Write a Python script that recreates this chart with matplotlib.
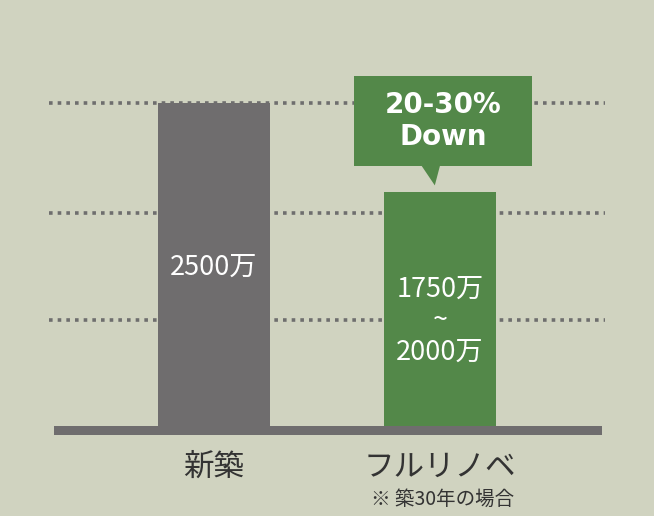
import matplotlib
matplotlib.use("Agg")
import matplotlib.pyplot as plt
from matplotlib.patches import Rectangle, Polygon

# data
categories = ["新築", "フルリノベ"]
values = [2500, 1810]
bar_labels = ["2500万", "1750万\n~\n2000万"]
grid_levels = [820, 1650, 2500]
callout_text = "20-30%\nDown"
note_text = "※ 築30年の場合"

BG = "#d0d3c0"
GRAY = "#6f6d6e"
GREEN = "#538849"
JP = ["Noto Sans CJK JP", "DejaVu Sans"]

fig = plt.figure(figsize=(6.54, 5.16), dpi=100, facecolor=BG)
ax = fig.add_axes([49 / 654, 0, 556 / 654, 1])
ax.set_facecolor(BG)
ax.set_xlim(-0.73, 1.73)
ax.set_ylim(-697, 3297)
ax.axis("off")

x = list(range(len(categories)))

# dotted guide lines
ax.hlines(grid_levels, -0.73, 1.73, colors="#6e6e6e", linewidth=2.6,
          linestyles=(0, (1, 1.4)), zorder=1)

ax.bar(x, values, width=0.496, color=[GRAY, GREEN], zorder=2)

# baseline strip
ax.add_patch(Rectangle((-0.71, -70), 2.425, 70, color=GRAY, zorder=3, lw=0))

ax.text(x[0], values[0] * 0.49, bar_labels[0], color="white", fontsize=19.5,
        family=JP, ha="center", va="center", zorder=4)
ax.text(x[1], values[1] * 0.45, bar_labels[1], color="white", fontsize=19.5,
        family=JP, ha="center", va="center", linespacing=1.2, zorder=4)

# callout above the renovation bar
top = values[1]
box_bottom, box_top = top + 200, top + 900
ax.add_patch(Rectangle((0.619, box_bottom), 0.788, box_top - box_bottom,
                       color=GREEN, lw=0, zorder=4))
ax.add_patch(Polygon([(0.918, box_bottom + 5), (1.0, box_bottom + 5),
                      (0.977, top + 52)], closed=True, color=GREEN, lw=0,
                     zorder=4))
ax.text(1.013, (box_bottom + box_top) / 2, callout_text, color="white",
        fontsize=20, family="DejaVu Sans", weight="bold", ha="center",
        va="center", linespacing=1.2, zorder=5)

# category labels
for xi, cat in zip(x, categories):
    ax.text(xi, -320, cat, color="#333333", fontsize=22, family=JP,
            ha="center", va="center")
ax.text(1.01, -568, note_text, color="#333333", fontsize=14, family=JP,
        ha="center", va="center")

fig.savefig("out.png", dpi=100, facecolor=BG)
